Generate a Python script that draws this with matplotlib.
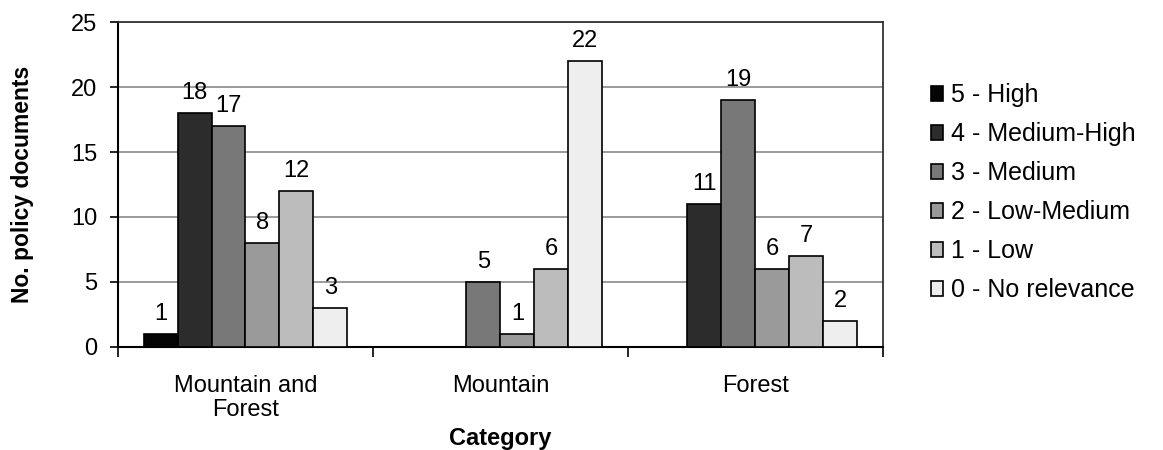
import matplotlib.pyplot as plt
import numpy as np

plt.rcParams['font.family'] = ['Liberation Sans', 'DejaVu Sans']

categories = ['Mountain and\nForest', 'Mountain', 'Forest']
series = ['5 - High', '4 - Medium-High', '3 - Medium', '2 - Low-Medium', '1 - Low', '0 - No relevance']
values = [
    [1, 0, 0],     # 5 - High
    [18, 0, 11],   # 4 - Medium-High
    [17, 5, 19],   # 3 - Medium
    [8, 1, 6],     # 2 - Low-Medium
    [12, 6, 7],    # 1 - Low
    [3, 22, 2],    # 0 - No relevance
]
colors = ['#050505', '#2c2c2c', '#787878', '#9a9a9a', '#bcbcbc', '#eeeeee']

fig = plt.figure(figsize=(11.63, 4.5), dpi=100)
ax = fig.add_axes([0.1015, 0.229, 0.6575, 0.722])

x = np.arange(len(categories))
w = 0.8 / len(series)
for i, (name, vals) in enumerate(zip(series, values)):
    pos = x - 0.4 + w * (i + 0.5)
    bars = ax.bar(pos, vals, w, color=colors[i], edgecolor='black', linewidth=1.2,
                  label=name, zorder=3)
    for b, v in zip(bars, vals):
        if v > 0:
            ax.text(b.get_x() + b.get_width() / 2, v + 0.7, str(v),
                    ha='center', va='bottom', fontsize=17)

ax.set_xlim(-0.5, 2.5)
ax.set_ylim(0, 25)
ax.set_yticks(range(0, 26, 5))
ax.tick_params(axis='y', labelsize=17, length=6, width=1.2, direction='out', pad=9)
ax.set_xticks([-0.5, 0.5, 1.5, 2.5])
ax.set_xticklabels([])
ax.set_xticks(x, minor=True)
ax.set_xticklabels(categories, minor=True, fontsize=17, linespacing=1.15)
ax.tick_params(axis='x', which='major', length=7, width=1.2, direction='out')
ax.tick_params(axis='x', which='minor', length=0, pad=20)

ax.yaxis.grid(True, color='#8a8a8a', linewidth=1.2, zorder=0)
ax.set_axisbelow(True)
for s in ['left', 'bottom']:
    ax.spines[s].set_linewidth(1.5)
    ax.spines[s].set_color('black')
for s in ['top', 'right']:
    ax.spines[s].set_linewidth(1.3)
    ax.spines[s].set_color('#333333')

ax.set_ylabel('No. policy documents', fontsize=16.5, fontweight='bold')
ax.yaxis.set_label_coords(-0.11, 0.5)
ax.set_xlabel('Category', fontsize=17, fontweight='bold', labelpad=4)

ax.legend(loc='center left', bbox_to_anchor=(1.05, 0.474), frameon=False,
          fontsize=18, handlelength=0.5, handleheight=0.5, handletextpad=0.3,
          labelspacing=0.6, borderaxespad=0)

fig.savefig('out.png', dpi=100)
